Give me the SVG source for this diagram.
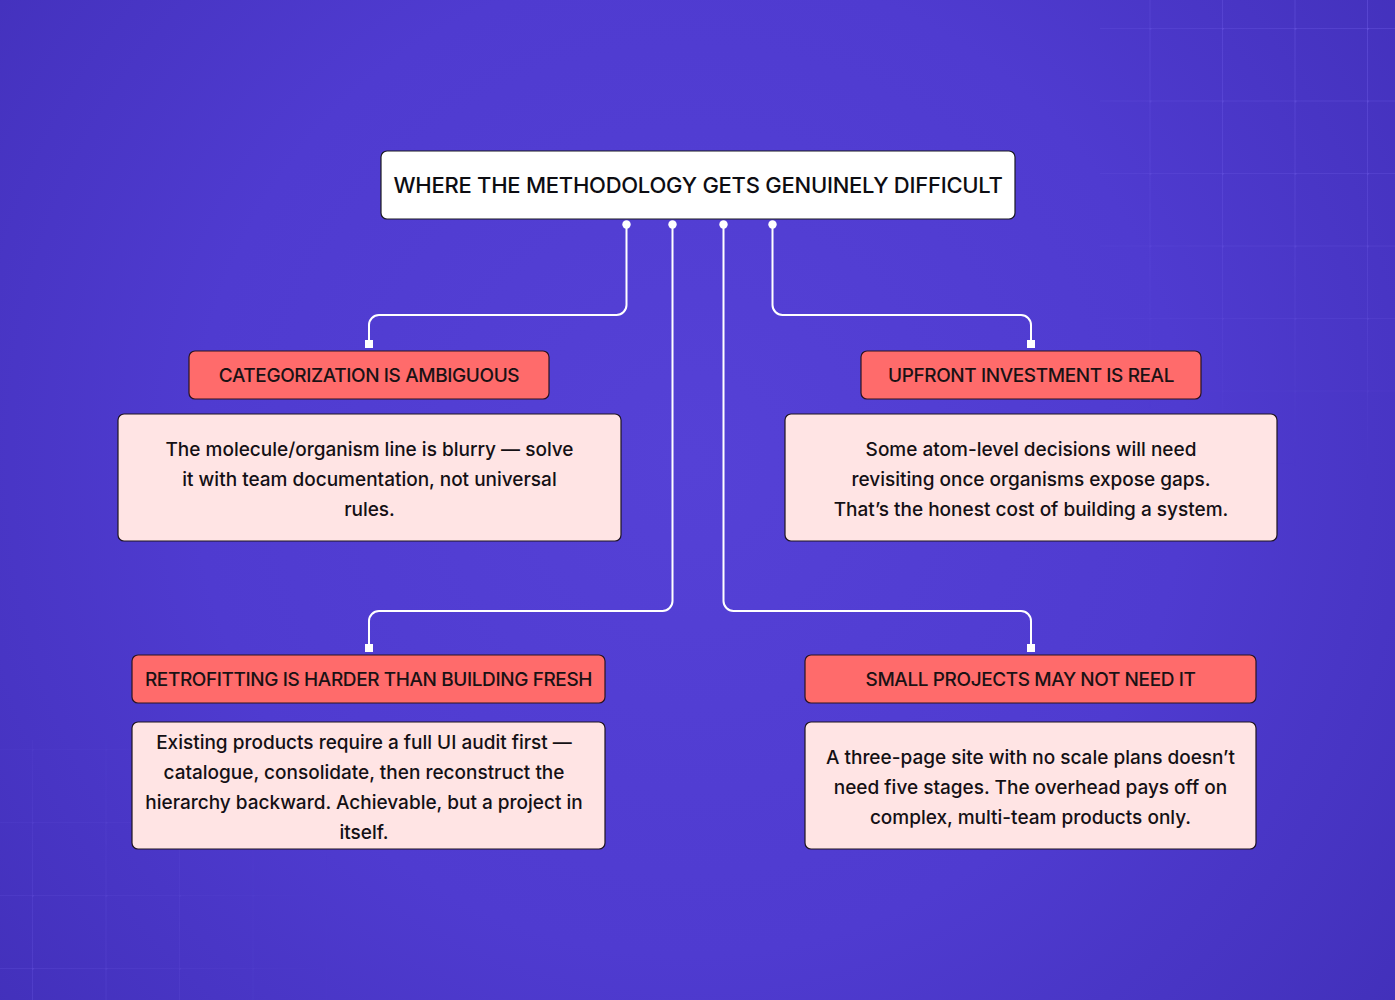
<svg xmlns="http://www.w3.org/2000/svg" width="1395" height="1000" viewBox="0 0 1395 1000">
<defs>
<radialGradient id="bg" cx="690" cy="460" r="900" gradientUnits="userSpaceOnUse">
<stop offset="0" stop-color="#5541D6"/>
<stop offset="0.55" stop-color="#4F3BD0"/>
<stop offset="1" stop-color="#4230BA"/>
</radialGradient>
<pattern id="gridTR" x="62" y="28" width="72.5" height="72.5" patternUnits="userSpaceOnUse">
<path d="M0 0H72.5M0 0V72.5" fill="none" stroke="#7A68F0" stroke-width="1.2"/>
<circle cx="0" cy="0" r="2" fill="#7A68F0"/>
</pattern>
<pattern id="gridBL" x="32" y="822" width="73.5" height="73" patternUnits="userSpaceOnUse">
<path d="M0 0H73.5M0 0V73" fill="none" stroke="#7A68F0" stroke-width="1.2"/>
<circle cx="0" cy="0" r="2" fill="#7A68F0"/>
</pattern>
<radialGradient id="fadeTR" cx="1395" cy="0" r="480" gradientUnits="userSpaceOnUse">
<stop offset="0" stop-color="#fff" stop-opacity="0.6"/>
<stop offset="0.6" stop-color="#fff" stop-opacity="0.35"/>
<stop offset="1" stop-color="#fff" stop-opacity="0"/>
</radialGradient>
<radialGradient id="fadeBL" cx="0" cy="1000" r="360" gradientUnits="userSpaceOnUse">
<stop offset="0" stop-color="#fff" stop-opacity="0.4"/>
<stop offset="1" stop-color="#fff" stop-opacity="0"/>
</radialGradient>
<mask id="mTR"><rect width="1395" height="1000" fill="url(#fadeTR)"/></mask>
<mask id="mBL"><rect width="1395" height="1000" fill="url(#fadeBL)"/></mask>
<marker id="dot" markerWidth="10" markerHeight="10" refX="5" refY="5" markerUnits="userSpaceOnUse">
<circle cx="5" cy="5" r="4.2" fill="#fff"/>
</marker>
<marker id="sq" markerWidth="10" markerHeight="10" refX="4" refY="5" markerUnits="userSpaceOnUse">
<rect x="0" y="1" width="8" height="8" fill="#fff"/>
</marker>
<style>
.title{font-family:Inter,"Noto Sans","Liberation Sans",sans-serif;font-size:22px;font-weight:500;fill:#0d0d12;letter-spacing:-0.25px}
.head{font-family:Inter,"Noto Sans","Liberation Sans",sans-serif;font-size:19px;font-weight:500;fill:#1a1214;letter-spacing:-0.4px}
.body{font-family:Inter,"Noto Sans","Liberation Sans",sans-serif;font-size:19px;font-weight:500;fill:#141014;letter-spacing:0px}
.tbox{fill:#ffffff;stroke:#1a1a22;stroke-width:1.2}
.hbox{fill:#FF6B6B;stroke:#2a1420;stroke-width:1.2}
.bbox{fill:#FFE4E4;stroke:#1f1420;stroke-width:1.2}
.conn{fill:none;stroke:#ffffff;stroke-width:2;marker-start:url(#dot);marker-end:url(#sq)}
</style>
</defs>
<rect width="1395" height="1000" fill="url(#bg)"/>
<rect x="1100" y="0" width="295" height="480" fill="url(#gridTR)" mask="url(#mTR)"/>
<rect x="0" y="740" width="330" height="260" fill="url(#gridBL)" mask="url(#mBL)"/>

<g id="connectors">
<path class="conn" d="M626.5 224.5V305a10 10 0 0 1-10 10H379a10 10 0 0 0-10 10V344"/>
<path class="conn" d="M672.5 224.5V601a10 10 0 0 1-10 10H379a10 10 0 0 0-10 10V648"/>
<path class="conn" d="M723.5 224.5V601a10 10 0 0 0 10 10H1021a10 10 0 0 1 10 10V648"/>
<path class="conn" d="M772.5 224.5V305a10 10 0 0 0 10 10H1021a10 10 0 0 1 10 10V344"/>
</g>

<g id="title">
<rect class="tbox" x="381" y="151" width="634" height="68" rx="6"/>
<text class="title" x="698" y="193" text-anchor="middle">WHERE THE METHODOLOGY GETS GENUINELY DIFFICULT</text>
</g>

<g id="categorization">
<rect class="hbox" x="189" y="351" width="360" height="48" rx="6"/>
<text class="head" x="369" y="382" text-anchor="middle">CATEGORIZATION IS AMBIGUOUS</text>
</g>
<g id="categorization-detail">
<rect class="bbox" x="118" y="414" width="503" height="127" rx="6"/>
<text class="body" text-anchor="middle"><tspan x="369.5" y="455.5">The molecule/organism line is blurry — solve</tspan><tspan x="369.5" y="485.5">it with team documentation, not universal</tspan><tspan x="369.5" y="515.5">rules.</tspan></text>
</g>

<g id="upfront">
<rect class="hbox" x="861" y="351" width="340" height="48" rx="6"/>
<text class="head" x="1031" y="382" text-anchor="middle">UPFRONT INVESTMENT IS REAL</text>
</g>
<g id="upfront-detail">
<rect class="bbox" x="785" y="414" width="492" height="127" rx="6"/>
<text class="body" text-anchor="middle"><tspan x="1031" y="455.5">Some atom-level decisions will need</tspan><tspan x="1031" y="485.5">revisiting once organisms expose gaps.</tspan><tspan x="1031" y="515.5">That’s the honest cost of building a system.</tspan></text>
</g>

<g id="retrofitting">
<rect class="hbox" x="132" y="655" width="473" height="48" rx="6"/>
<text class="head" x="368.5" y="686" text-anchor="middle">RETROFITTING IS HARDER THAN BUILDING FRESH</text>
</g>
<g id="retrofitting-detail">
<rect class="bbox" x="132" y="722" width="473" height="127" rx="6"/>
<text class="body" text-anchor="middle"><tspan x="364" y="748.5">Existing products require a full UI audit first —</tspan><tspan x="364" y="778.5">catalogue, consolidate, then reconstruct the</tspan><tspan x="364" y="808.5">hierarchy backward. Achievable, but a project in</tspan><tspan x="364" y="838.5">itself.</tspan></text>
</g>

<g id="small-projects">
<rect class="hbox" x="805" y="655" width="451" height="48" rx="6"/>
<text class="head" x="1030.5" y="686" text-anchor="middle">SMALL PROJECTS MAY NOT NEED IT</text>
</g>
<g id="small-projects-detail">
<rect class="bbox" x="805" y="722" width="451" height="127" rx="6"/>
<text class="body" text-anchor="middle"><tspan x="1030.5" y="763.5">A three-page site with no scale plans doesn’t</tspan><tspan x="1030.5" y="793.5">need five stages. The overhead pays off on</tspan><tspan x="1030.5" y="823.5">complex, multi-team products only.</tspan></text>
</g>
</svg>
